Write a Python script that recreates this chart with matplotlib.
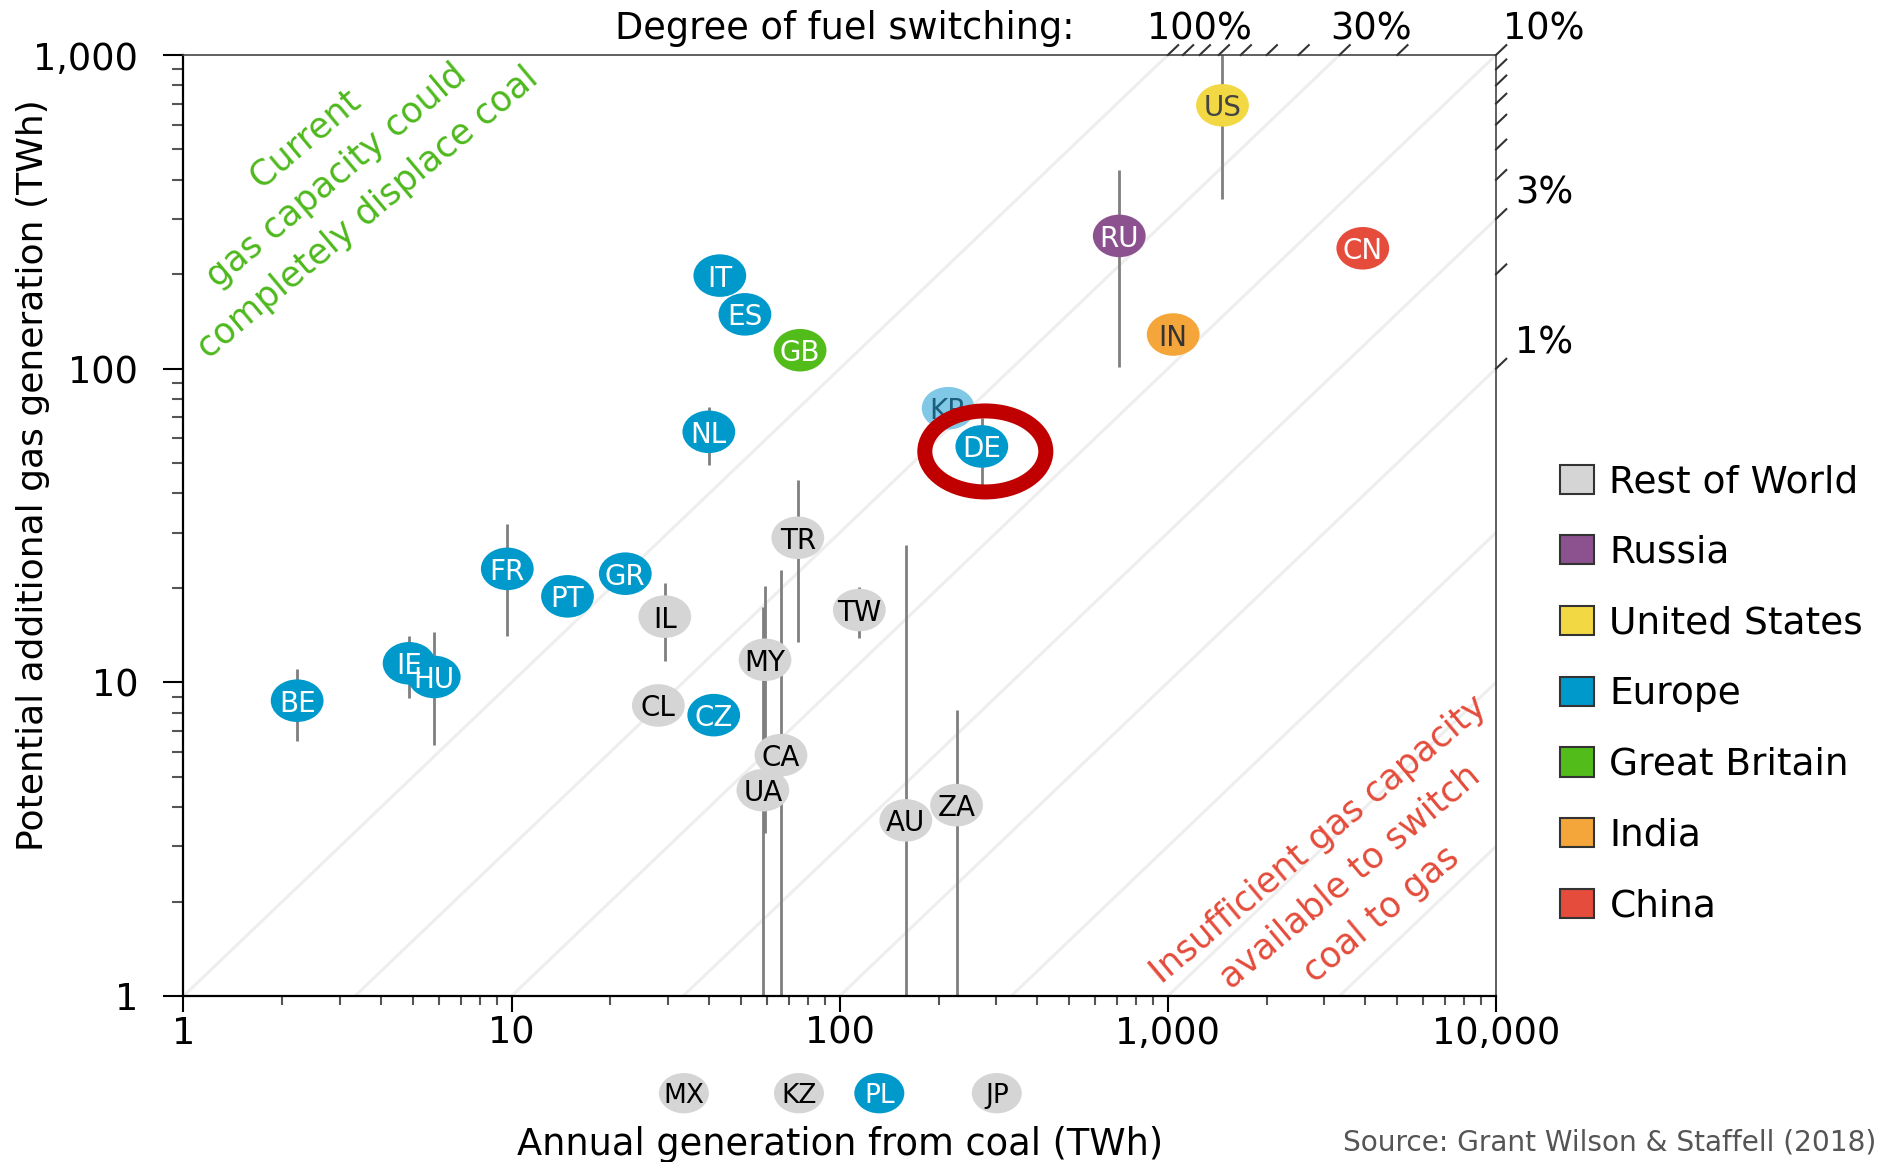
import numpy as np
import matplotlib.pyplot as plt
import matplotlib.transforms as mtransforms
from matplotlib.path import Path
from matplotlib.patches import Patch, Ellipse
from matplotlib.ticker import NullFormatter

plt.rcParams['font.family'] = 'DejaVu Sans'

nan = np.nan

# countries, annual coal generation (TWh) and potential extra gas generation (TWh)
codes = ['BE', 'IE', 'HU', 'FR', 'PT', 'GR', 'IL', 'CL', 'CZ', 'MY', 'CA', 'UA', 'TR', 'TW',
         'AU', 'ZA', 'NL', 'IT', 'ES', 'GB', 'KR', 'DE', 'RU', 'US', 'IN', 'CN']
coal = [2.22, 4.87, 5.81, 9.7, 14.8, 22.2, 29.3, 28.0, 41.3, 59.2, 66.2, 58.3, 74.5, 114.7,
        159, 227, 39.9, 43.1, 51.4, 75.7, 214, 271, 711, 1467, 1038, 3927]
gas = [8.74, 11.5, 10.4, 23.0, 18.8, 22.2, 16.2, 8.44, 7.86, 11.8, 5.86, 4.53, 28.9, 17.0,
       3.63, 4.06, 62.9, 198, 149, 114.5, 74.8, 56.5, 265, 691, 128.5, 242]
gas_low = [6.5, 8.9, 6.3, 14.0, nan, nan, 11.7, nan, nan, 3.3, 0.5, 0.5, 13.4, 13.8,
           0.5, 0.5, 49.3, nan, nan, nan, nan, 42.0, 101, 348, nan, nan]
gas_high = [11.0, 14.0, 14.5, 31.9, nan, nan, 20.7, nan, nan, 20.3, 22.8, 17.4, 44.2, 20.2,
            27.4, 8.16, 75.7, nan, nan, nan, nan, 69.5, 429, 1500, nan, nan]
region = ['Europe', 'Europe', 'Europe', 'Europe', 'Europe', 'Europe', 'Rest of World',
          'Rest of World', 'Europe', 'Rest of World', 'Rest of World', 'Rest of World',
          'Rest of World', 'Rest of World', 'Rest of World', 'Rest of World', 'Europe',
          'Europe', 'Europe', 'Great Britain', 'Korea', 'Europe', 'Russia', 'United States',
          'India', 'China']

# countries with no spare gas capacity (shown below the axis)
nogas_codes = ['MX', 'KZ', 'PL', 'JP']
nogas_coal = [33.5, 75.1, 132, 301]
nogas_region = ['Rest of World', 'Rest of World', 'Europe', 'Rest of World']

highlight = 'DE'

legend_regions = ['Rest of World', 'Russia', 'United States', 'Europe',
                  'Great Britain', 'India', 'China']
region_colors = {'Rest of World': '#d5d5d5', 'Russia': '#8c5290', 'United States': '#f2d843',
                 'Europe': '#0099cc', 'Great Britain': '#52bc1a', 'India': '#f4a63b',
                 'China': '#e54c3c', 'Korea': '#80c8e6'}
label_colors = {'Rest of World': 'black', 'Russia': 'white', 'United States': '#444444',
                'Europe': 'white', 'Great Britain': 'white', 'India': '#333333',
                'China': 'white', 'Korea': '#1c5f7d'}

# degree of fuel switching: diagonal guide lines and edge marks
diag_k = [1, 0.3, 0.1, 0.03, 0.01, 0.003, 0.001, 0.0003]
top_marks = [1.0, 0.9, 0.8, 0.7, 0.6, 0.5, 0.4, 0.3, 0.2, 0.1]
right_marks = [0.09, 0.08, 0.07, 0.06, 0.05, 0.04, 0.03, 0.02, 0.01]
pct_vals = [1.0, 0.3, 0.1, 0.03, 0.01]
pct_text = ['100%', '30%', '10%', '3%', '1%']

xticks = [1, 10, 100, 1000, 10000]
xticklabels = ['1', '10', '100', '1,000', '10,000']
yticks = [1, 10, 100, 1000]
yticklabels = ['1', '10', '100', '1,000']

FS = 26.5

fig = plt.figure(figsize=(18.81, 11.62), dpi=100)
ax = fig.add_axes([183.5 / 1881, 1 - 996 / 1162, 1312.5 / 1881, 941 / 1162])
ax.set_xscale('log')
ax.set_yscale('log')

xs = np.array([1, 10000])
for k in diag_k:
    ax.plot(xs, k * xs, color='#eeeeee', lw=2.2, zorder=1)

# uncertainty bars
for x, lo, hi in zip(coal, gas_low, gas_high):
    if not np.isnan(lo):
        ax.vlines(x, lo, hi, color='#7f7f7f', lw=2, zorder=2)

ell = Path.unit_circle().transformed(mtransforms.Affine2D().scale(1.24, 1.0))
ax.scatter(coal, gas, marker=ell, s=38 ** 2, c=[region_colors[r] for r in region],
           linewidths=0, zorder=3)
for c, x, y, r in zip(codes, coal, gas, region):
    ax.text(x, y, c, ha='center', va='center_baseline', fontsize=20,
            color=label_colors[r], zorder=4)

# red ring round Germany (size in inches, centred on the point)
i = codes.index(highlight)
ring_trans = fig.dpi_scale_trans + mtransforms.ScaledTranslation(coal[i], gas[i], ax.transData)
ax.add_patch(Ellipse((0.035, -0.05), 1.21, 0.81, transform=ring_trans, facecolor='none',
                     edgecolor='#c00000', lw=10.8, zorder=5))

# zero-capacity row below the axis
below = mtransforms.blended_transform_factory(ax.transData, ax.transAxes)
row_y = -0.1033
ax.scatter(nogas_coal, [row_y] * len(nogas_coal), marker=ell, s=36 ** 2,
           c=[region_colors[r] for r in nogas_region], linewidths=0,
           transform=below, clip_on=False, zorder=3)
for c, x, r in zip(nogas_codes, nogas_coal, nogas_region):
    ax.text(x, row_y, c, transform=below, ha='center', va='center_baseline',
            fontsize=19, color=label_colors[r], clip_on=False, zorder=4)

# hatch marks on top and right edges
for p in top_marks + right_marks:
    if p >= 0.1:
        x0, y0 = 1000 / p, 1000
    else:
        x0, y0 = 10000, 10000 * p
    ax.plot([x0, x0 * 1.075], [y0, y0 * 1.075], color='#333333', lw=1.5,
            clip_on=False, zorder=6)

for p, t in zip(pct_vals, pct_text):
    if p > 0.1:
        xy, off = (1000 / p, 1000), (32, 30)
    else:
        xy, off = (10000, 10000 * p), (48, 30)
    ax.annotate(t, xy=xy, xytext=off, textcoords='offset pixels', ha='center',
                va='center_baseline', fontsize=FS, annotation_clip=False)

ax.text(0.6785, 1.0319, 'Degree of fuel switching:', transform=ax.transAxes,
        ha='right', va='center_baseline', fontsize=FS)

ax.text(0.1165, 0.872, 'Current\ngas capacity could\ncompletely displace coal',
        transform=ax.transAxes, rotation=40, rotation_mode='anchor', ha='center',
        va='center', multialignment='center', linespacing=1.55, fontsize=25.3,
        color='#4db81c', clip_on=False)
ax.text(0.889, 0.1265, 'Insufficient gas capacity\navailable to switch\ncoal to gas',
        transform=ax.transAxes, rotation=40, rotation_mode='anchor', ha='center',
        va='center', multialignment='center', linespacing=1.55, fontsize=25.3,
        color='#e44b3a', clip_on=False)

ax.set_xlim(1, 10000)
ax.set_ylim(1, 1000)
ax.set_xticks(xticks)
ax.set_xticklabels(xticklabels)
ax.set_yticks(yticks)
ax.set_yticklabels(yticklabels)
ax.xaxis.set_minor_formatter(NullFormatter())
ax.yaxis.set_minor_formatter(NullFormatter())
ax.tick_params(axis='x', which='major', length=11.5, width=1.5, labelsize=FS, pad=2)
ax.tick_params(axis='x', which='minor', length=6.5, width=1.5, color='#555555')
ax.tick_params(axis='y', which='major', length=14.4, width=1.5, labelsize=FS, pad=18)
ax.tick_params(axis='y', which='minor', length=7.7, width=1.5, color='#555555')

for s in ['left', 'bottom']:
    ax.spines[s].set_linewidth(1.6)
for s in ['top', 'right']:
    ax.spines[s].set_linewidth(1.2)
    ax.spines[s].set_color('#444444')

ax.set_xlabel('Annual generation from coal (TWh)', fontsize=FS, va='baseline')
ax.xaxis.set_label_coords(0.5, -0.169)
ax.set_ylabel('Potential additional gas generation (TWh)', fontsize=26, va='baseline')
ax.yaxis.set_label_coords(-0.107, 0.5537)

handles = [Patch(facecolor=region_colors[r], edgecolor='#333333', lw=1.5, label=r)
           for r in legend_regions]
fig.legend(handles=handles, loc='upper left', bbox_to_anchor=(0.8293, 0.6005),
           frameon=False, fontsize=27, handlelength=0.9, handleheight=0.82,
           handletextpad=0.42, labelspacing=0.925, borderpad=0, borderaxespad=0)

fig.text(1343 / 1881, 12 / 1162, 'Source: Grant Wilson & Staffell (2018)',
         ha='left', va='baseline', fontsize=20.2, color='#555555')

fig.savefig('out.png', dpi=100)
